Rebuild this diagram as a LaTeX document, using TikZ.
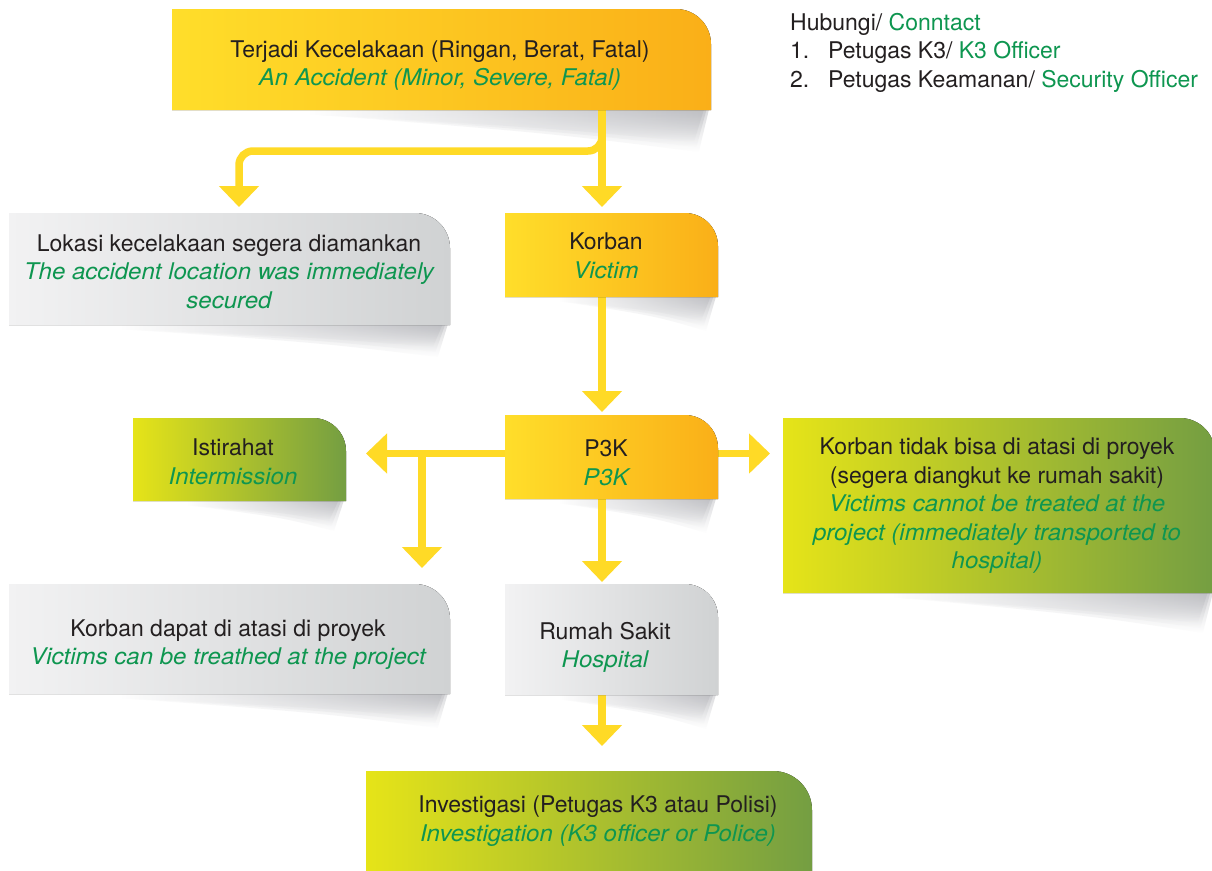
\documentclass[tikz,border=0pt]{standalone}
\usepackage{fontspec}
\setmainfont{TeX Gyre Heros}[ItalicFeatures={FakeStretch=1.045}]
\usetikzlibrary{arrows.meta,fadings,calc}

\definecolor{ambL}{RGB}{255,222,42}
\definecolor{ambR}{RGB}{250,175,24}
\definecolor{grayL}{RGB}{242,242,243}
\definecolor{grayR}{RGB}{208,210,211}
\definecolor{grnL}{RGB}{230,228,24}
\definecolor{grnR}{RGB}{116,158,66}
\definecolor{flowyellow}{RGB}{255,218,38}
\definecolor{txtgreen}{RGB}{14,150,80}
\definecolor{txtdark}{RGB}{35,31,32}
\definecolor{shadowgray}{RGB}{178,179,184}

% shadow opacity falls off downwards
\tikzfading[name=shadowdrop, top color=transparent!0, bottom color=transparent!100]

% English translation line
\newcommand\entext[1]{{\color{txtgreen}\itshape #1}}

% card body with a single rounded corner (top right)
\newcommand\cardshape[3]{%
  \fill[#3] (#1.south west) -- (#1.north west) -- ([xshift=-#2pt]#1.north east)
    .. controls ([xshift=-0.448*#2pt]#1.north east) and ([yshift=-0.448*#2pt]#1.north east)
    .. ([yshift=-#2pt]#1.north east) -- (#1.south east) -- cycle;}

% soft wedge shadow under the lower right part of a card, built from a few
% translucent layers so that its edge blurs out
\newcommand\dropshade[2]{%
  \foreach \g in {0,5,10}{%
    \shade[left color=white, right color=shadowgray, path fading=shadowdrop, opacity=0.5]
      ($(#1.south west)!0.25!(#1.south east)+(0,-4)$) -- ($(#1.south east)+(-\g/2-1,-4)$)
      -- ($(#1.south east)+(-12-\g/2,#2-\g)$)
      .. controls ($(#1.south west)!0.7!(#1.south east)+(0,#2*0.55-\g/2)$) ..
      ($(#1.south west)!0.25!(#1.south east)+(0,4)$) -- cycle;}}

\tikzset{
  card/.style={rectangle, inner sep=0pt, outer sep=0pt},
  amber/.style={left color=ambL, right color=ambR},
  silver/.style={left color=grayL, right color=grayR},
  leaf/.style={left color=grnL, right color=grnR},
  txt/.style={align=center, text=txtdark, inner sep=0pt, font=\fontsize{23}{28.5}\selectfont},
  legend/.style={anchor=base west, text=txtdark, inner sep=0pt, font=\fontsize{23}{28}\selectfont},
  flow/.style={draw=flowyellow, line width=7.5pt, -{Triangle[width=39pt,length=21pt]}},
}

\begin{document}
\begin{tikzpicture}[x=1pt, y=-1pt]
\useasboundingbox (0,0) rectangle (1212,870);
\clip (0,0) rectangle (1212,870);
\fill[white] (0,0) rectangle (1212,870);

% card frames
\node[card, minimum width=539pt, minimum height=101pt] (acc)    at (441.5,59.5) {};
\node[card, minimum width=441pt, minimum height=112pt] (lokasi) at (229.5,269) {};
\node[card, minimum width=213pt, minimum height=84pt]  (korban) at (611.5,255) {};
\node[card, minimum width=213pt, minimum height=84pt]  (p3k)    at (611.5,457) {};
\node[card, minimum width=213pt, minimum height=83pt]  (ist)    at (239.5,459.5) {};
\node[card, minimum width=432pt, minimum height=175pt] (tidak)  at (999,505.5) {};
\node[card, minimum width=441pt, minimum height=110pt] (dapat)  at (229.5,639) {};
\node[card, minimum width=213pt, minimum height=111pt] (rs)     at (611.5,639.5) {};
\node[card, minimum width=446pt, minimum height=112pt] (inv)    at (589,827) {};

% shadows
\dropshade{acc}{42}
\dropshade{lokasi}{32}
\dropshade{korban}{34}
\dropshade{p3k}{34}
\dropshade{ist}{30}
\dropshade{tidak}{40}
\dropshade{dapat}{34}
\dropshade{rs}{34}

% connector guides
\coordinate (axis)  at (602,0);
\coordinate (lbend) at (239,151);
\coordinate (bar)   at (0,453.5);
\coordinate (bjoin) at (422,450);

% connectors
\draw[flow, rounded corners=14pt, shorten >=6pt] (acc.south -| axis) |- (lbend) -- (lokasi.north -| lbend);
\draw[flow, shorten >=6pt] (acc.south -| axis) -- (korban.north -| axis);
\draw[flow, shorten >=3pt] (korban.south -| axis) -- (p3k.north -| axis);
\draw[flow, shorten >=20pt] (p3k.west |- bar) -- (ist.east |- bar);
\draw[flow, shorten >=16pt] (bjoin) -- (dapat.north -| bjoin);
\draw[flow, shorten >=13pt] (p3k.east |- bar) -- (tidak.west |- bar);
\draw[flow, shorten >=2pt] (p3k.south -| axis) -- (rs.north -| axis);
\draw[flow, shorten >=25pt] (rs.south -| axis) -- (inv.north -| axis);

% card bodies
\cardshape{acc}{35}{amber}
\cardshape{lokasi}{35}{silver}
\cardshape{korban}{33}{amber}
\cardshape{p3k}{33}{amber}
\cardshape{ist}{33}{leaf}
\cardshape{tidak}{35}{leaf}
\cardshape{dapat}{35}{silver}
\cardshape{rs}{33}{silver}
\cardshape{inv}{39}{leaf}

% card texts
\node[txt] (acc-t) at (440,65.5) {Terjadi Kecelakaan (Ringan, Berat, Fatal)\\ \entext{An Accident (Minor, Severe, Fatal)}};
\node[txt] (lokasi-t) at (229,271.5) {Lokasi kecelakaan segera diamankan\\ \entext{The accident location was immediately}\\ \entext{secured}};
\node[txt] (korban-t) at (606,256) {Korban\\ \entext{Victim}};
\node[txt] (p3k-t) at (606,463) {P3K\\ \entext{P3K}};
\node[txt] (ist-t) at (233,462) {Istirahat\\ \entext{Intermission}};
\node[txt] (tidak-t) at (997,506) {Korban tidak bisa di atasi di proyek\\ (segera diangkut ke rumah sakit)\\ \entext{Victims cannot be treated at the}\\ \entext{project (immediately transported to}\\ \entext{hospital)}};
\node[txt] (dapat-t) at (228,644.5) {Korban dapat di atasi di proyek\\ \entext{Victims can be treathed at the project}};
\node[txt] (rs-t) at (605,647.5) {Rumah Sakit\\ \entext{Hospital}};
\node[txt] (inv-t) at (598,821) {Investigasi (Petugas K3 atau Polisi)\\ \entext{Investigation (K3 officer or Police)}};

% contact list
\node[legend] (contact) at (790,30) {Hubungi/ \textcolor{txtgreen}{Conntact}};
\node[legend] (contact1) at (790,58) {\makebox[38pt][l]{1.}Petugas K3/ \textcolor{txtgreen}{K3 Officer}};
\node[legend] (contact2) at (790,87) {\makebox[38pt][l]{2.}Petugas Keamanan/ \textcolor{txtgreen}{Security Officer}};
\end{tikzpicture}
\end{document}
